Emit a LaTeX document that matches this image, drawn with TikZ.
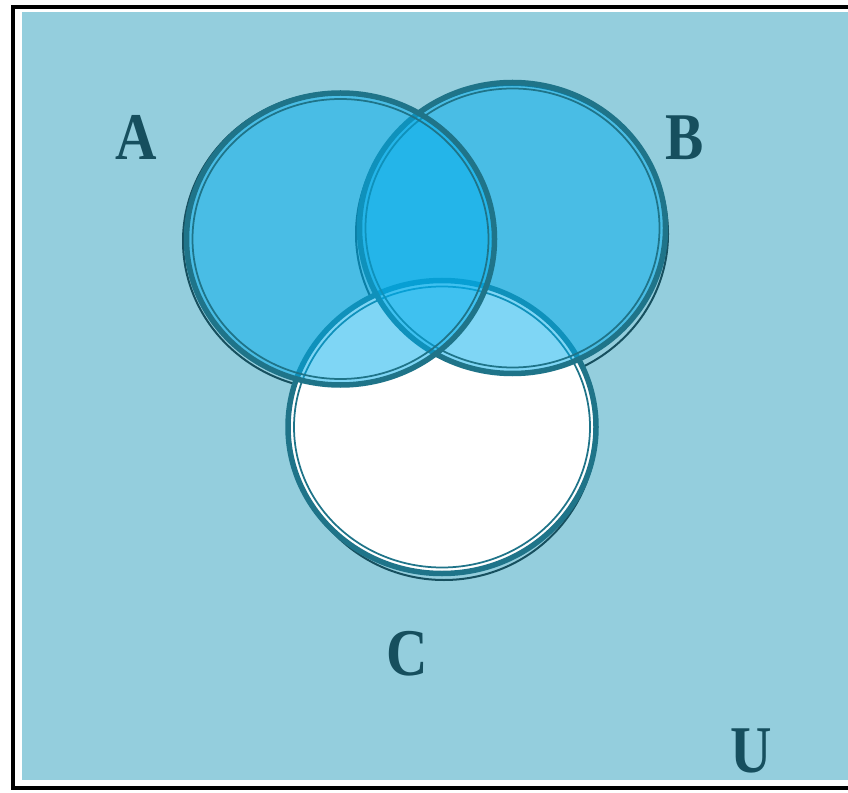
\documentclass[tikz,border=0pt]{standalone}
\usepackage{fontspec}
\setmainfont{Liberation Serif}

\definecolor{universe}{HTML}{94CEDD}
\definecolor{setblue}{RGB}{0,174,237}
\definecolor{rimteal}{HTML}{1F7489}
\definecolor{shadowteal}{HTML}{17505F}
\definecolor{labelteal}{HTML}{164F5E}

\begin{document}
\begin{tikzpicture}[
    x=0.02cm, y=0.02cm, % one unit is one pixel of the reference
    frame/.style={draw=black, line width=0.08cm}, % Outer frame
    shadowrim/.style={draw=shadowteal, line width=0.04cm}, % Rough dark rim behind a set
    outerrim/.style={draw=rimteal, line width=0.11cm}, % Thick outline of a set
    innerrim/.style={draw=rimteal, line width=0.035cm}, % Thin line inside the outline
    setfill/.style={fill=setblue, fill opacity=0.5}, % Translucent set colour
    setlabel/.style={text=labelteal, inner sep=0pt, xscale=0.86, transform shape,
        font=\fontsize{38}{40}\selectfont\bfseries}
]

    % Centres and radii of the three sets
    \def\ax{340.5} \def\ay{553} \def\arx{154} \def\ary{146}
    \def\bx{512.5}  \def\by{564} \def\brx{153}  \def\bry{145.5}
    \def\cx{442}    \def\cy{365} \def\crx{154}  \def\cry{146.5}

    \useasboundingbox (0,0) rectangle (848,792);

    % --- Frame and universe ---
    \draw[frame] (13,4) rectangle (880,785);
    \fill[universe] (22,12) rectangle (850,780);

    % --- Dark rims showing round the sets ---
    \draw[shadowrim] (339,551) ellipse [x radius=156, y radius=149];
    \draw[shadowrim] (512,558) ellipse [x radius=156, y radius=149];
    \draw[shadowrim] (444,362) ellipse [x radius=152, y radius=150];

    % --- Set C (white, lies under the others) ---
    \fill[white] (\cx,\cy) ellipse [x radius=\crx, y radius=\cry];
    \draw[outerrim] (\cx,\cy) ellipse [x radius=\crx, y radius=\cry];
    \draw[innerrim] (\cx,\cy) ellipse [x radius=\crx-6, y radius=\cry-6];

    % --- Set B ---
    \fill[setfill] (\bx,\by) ellipse [x radius=\brx, y radius=\bry];
    \draw[outerrim] (\bx,\by) ellipse [x radius=\brx, y radius=\bry];
    \draw[innerrim] (\bx,\by) ellipse [x radius=\brx-6, y radius=\bry-6];

    % --- Set A ---
    \fill[setfill] (\ax,\ay) ellipse [x radius=\arx, y radius=\ary];
    \draw[outerrim] (\ax,\ay) ellipse [x radius=\arx, y radius=\ary];
    \draw[innerrim] (\ax,\ay) ellipse [x radius=\arx-6, y radius=\ary-6];

    % --- Labels ---
    \node[setlabel] (labA) at (136.5,654.5) {A};
    \node[setlabel] (labB) at (685,654.5) {B};
    \node[setlabel] (labC) at (407,138) {C};
    \node[setlabel] (labU) at (751.5,41.5) {U};

\end{tikzpicture}
\end{document}
